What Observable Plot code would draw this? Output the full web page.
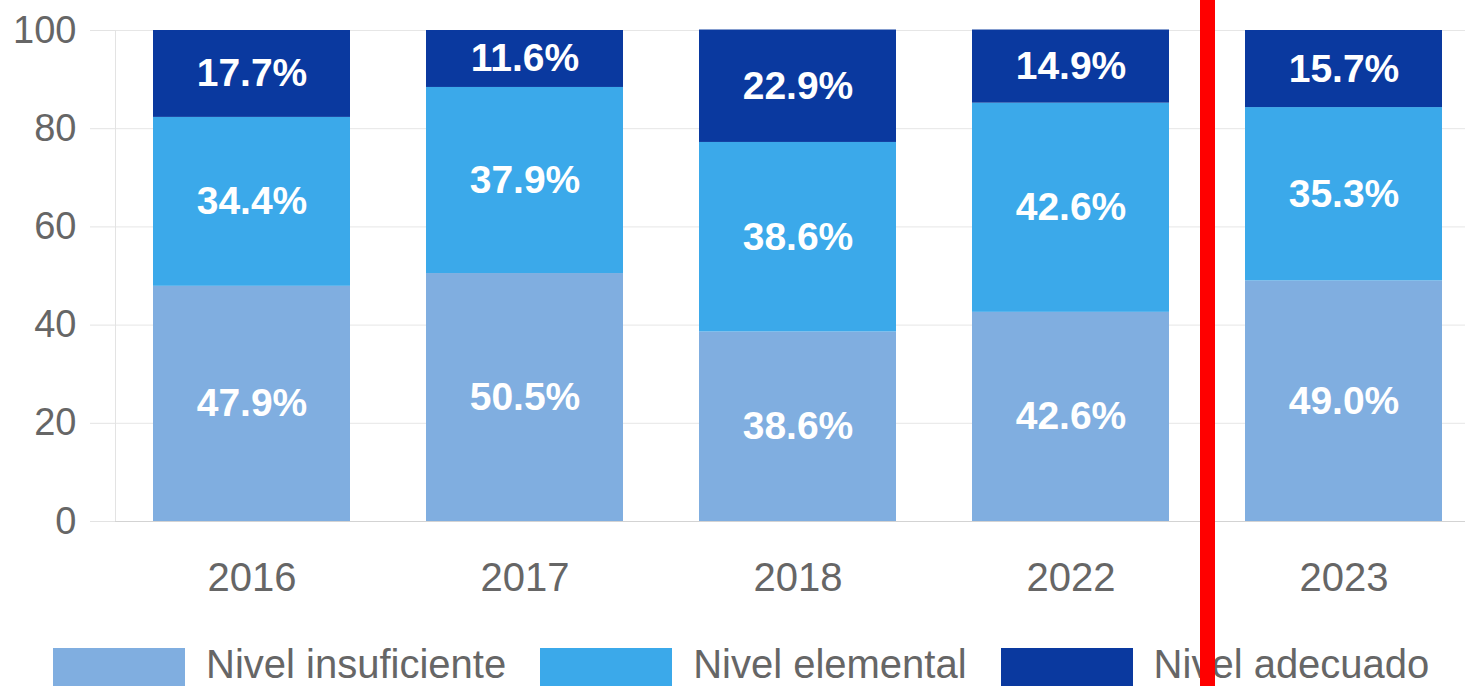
<!DOCTYPE html>
<html><head><meta charset="utf-8">
<script src="https://cdn.jsdelivr.net/npm/d3@7"></script>
<script src="https://cdn.jsdelivr.net/npm/@observablehq/plot@0.6"></script>
<style>
body{margin:0;background:#fff;font-family:"Liberation Sans",Arial,sans-serif;overflow:hidden;width:1465px;height:686px;position:relative}
#chart svg{display:block;overflow:hidden}
#legend{position:absolute;left:53px;top:641px;display:flex;align-items:flex-start;white-space:nowrap}
.sw{width:132px;height:50px;margin-top:7px;margin-right:21px;flex:none}
.lb{font-size:40px;line-height:46px;color:#666;margin-right:34px}
#redline{position:absolute;top:0;width:15px;height:686px;background:#ff0000;z-index:10}
</style></head><body>
<div id="chart"></div>
<div id="legend"></div>
<div id="redline"></div>
<script>
const years = ["2016", "2017", "2018", "2022", "2023"];
const levels = ["Nivel insuficiente", "Nivel elemental", "Nivel adecuado"];
const insuficiente = [47.9, 50.5, 38.6, 42.6, 49.0];
const elemental = [34.4, 37.9, 38.6, 42.6, 35.3];
const adecuado = [17.7, 11.6, 22.9, 14.9, 15.7];
const colors = ["#80AEE0", "#3BA9EA", "#0A399F"];
const yTicks = [0, 20, 40, 60, 80, 100];

const series = [insuficiente, elemental, adecuado];
const data = [];
levels.forEach((lv, i) => years.forEach((yr, j) => data.push({level: lv, year: yr, value: series[i][j]})));

const font = '"Liberation Sans", Arial, sans-serif';
const plot = Plot.plot({
  width: 1465, height: 620,
  marginTop: 30, marginBottom: 99, marginLeft: 115, marginRight: 0,
  style: {fontFamily: font, background: "transparent"},
  x: {domain: years, range: [113, 1481], paddingInner: 0.28, paddingOuter: 0.14, label: null},
  y: {domain: [0, 100], label: null},
  color: {domain: levels, range: colors},
  marks: [
    Plot.gridY(yTicks, {stroke: "#e6e6e6", strokeOpacity: 1}),
    Plot.frame({anchor: "left", stroke: "#e3e3e3"}),
    Plot.ruleY([0], {stroke: "#d3d3d3"}),
    Plot.axisY(yTicks, {tickSize: 25, tickPadding: 14, stroke: "#e3e3e3", fill: "#666", fontSize: 38, label: null}),
    Plot.axisX({tickSize: 0, tickPadding: 41, fill: "#666", fontSize: 40, label: null}),
    Plot.barY(data, {x: "year", y: "value", fill: "level"}),
    Plot.text(data, Plot.stackY({x: "year", y: "value", text: d => d.value.toFixed(1) + "%", fill: "white", fontWeight: "bold", fontSize: 39}))
  ]
});
document.getElementById("chart").appendChild(plot);

const legend = document.getElementById("legend");
levels.forEach((lv, i) => {
  const sw = document.createElement("div"); sw.className = "sw"; sw.style.background = colors[i];
  const lb = document.createElement("div"); lb.className = "lb"; lb.textContent = lv;
  legend.appendChild(sw); legend.appendChild(lb);
});

const xs = plot.scale("x");
const step = xs.apply("2023") - xs.apply("2022");
const center = xs.apply("2023") - (step - xs.bandwidth) / 2;
const red = document.getElementById("redline");
red.style.left = (center - 7.5) + "px";
</script>
</body></html>
